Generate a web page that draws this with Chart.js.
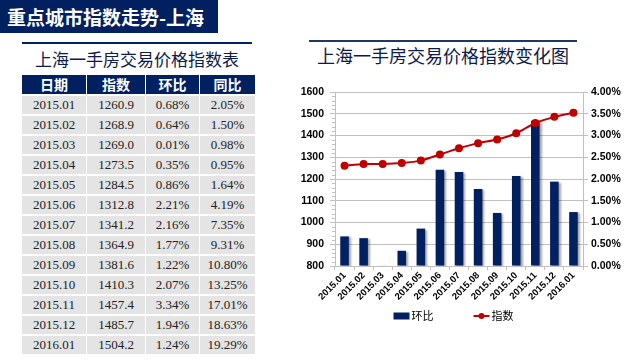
<!DOCTYPE html>
<html>
<head>
<meta charset="utf-8">
<script src="https://cdn.jsdelivr.net/npm/chart.js@4/dist/chart.umd.min.js"></script>
<style>
    body { margin: 0; width: 627px; height: 360px; background: #fff; position: relative; overflow: hidden; font-family: "Noto Sans CJK SC", sans-serif; }
    .top-bar { position: absolute; left: 0; top: 0; width: 218px; height: 33px; background: #002060; color: #fff; font-weight: bold; font-size: 19px; line-height: 33px; padding-left: 7px; box-sizing: border-box; white-space: nowrap; }
    .tbl-title { position: absolute; left: 22px; top: 42px; width: 230px; height: 33px; border-top: 2px solid #002060; box-sizing: border-box; text-align: center; font-size: 17px; line-height: 30px; color: #0d1a4a; }
    table.data-table { position: absolute; left: 22px; top: 75px; border-collapse: collapse; }
    .data-table th { background: #002060; color: #fff; font-weight: bold; font-size: 14px; height: 19px; padding: 0; line-height: 19px; border-right: 1px solid #fff; }
    .data-table td { background: #e4e4e4; height: 18px; padding: 0; font-family: "Liberation Serif", serif; font-size: 13px; color: #222; text-align: center; border: 1px solid #fff; border-left: 0; border-top: 2px solid #fff; line-height: 18px; }
    .chart-title { position: absolute; left: 309px; top: 40px; width: 268px; border-top: 2px solid #1f3864; text-align: center; font-size: 18px; line-height: 26px; color: #0d1a4a; white-space: nowrap; }
    #wrap { position: absolute; left: 280px; top: 70px; width: 347px; height: 270px; }
</style>
</head>
<body>
<div class="top-bar">重点城市指数走势-上海</div>
<div class="tbl-title">上海一手房交易价格指数表</div>
<table class="data-table" id="tbl"></table>
<div class="chart-title">上海一手房交易价格指数变化图</div>
<div id="wrap"><canvas id="real_time_chart" width="347" height="270"></canvas></div>
<script>
// 数据
const dates = ['2015.01', '2015.02', '2015.03', '2015.04', '2015.05', '2015.06', '2015.07',
    '2015.08', '2015.09', '2015.10', '2015.11', '2015.12', '2016.01'];
const indexValues = [1260.9, 1268.9, 1269.0, 1273.5, 1284.5, 1312.8, 1341.2, 1364.9, 1381.6, 1410.3, 1457.4, 1485.7, 1504.2];
const momValues = [0.68, 0.64, 0.01, 0.35, 0.86, 2.21, 2.16, 1.77, 1.22, 2.07, 3.34, 1.94, 1.24];   // 环比 %
const yoyValues = [2.05, 1.50, 0.98, 0.95, 1.64, 4.19, 7.35, 9.31, 10.80, 13.25, 17.01, 18.63, 19.29]; // 同比 %
const headers = ['日期', '指数', '环比', '同比'];
const colWidths = [64, 58, 53, 55];

// Таблица
function buildTable() {
    let html = '<tr>';
    headers.forEach((h, i) => {
        html += `<th style="width:${colWidths[i]}px">${h}</th>`;
    });
    html += '</tr>';
    dates.forEach((d, i) => {
        html += `<tr><td>${d}</td><td>${indexValues[i].toFixed(1)}</td>` +
            `<td>${momValues[i].toFixed(2)}%</td><td>${yoyValues[i].toFixed(2)}%</td></tr>`;
    });
    document.getElementById('tbl').innerHTML = html;
}
buildTable();

const navy = '#002060';
const red = '#c00000';
const gridColor = '#c0c0c0';
const tickFont = { family: '"Liberation Sans", Arial, sans-serif', size: 10.5, weight: 'bold' };

// тень у столбцов, мелкие деления и легенда
const extras = {
    id: 'extras',
    beforeDatasetDraw(chart, args) {
        if (args.index === 0) {
            const c = chart.ctx;
            c.save();
            c.shadowColor = 'rgba(0,0,0,0.35)';
            c.shadowOffsetX = 2;
            c.shadowOffsetY = 1;
            c.shadowBlur = 2;
        }
    },
    afterDatasetDraw(chart, args) {
        if (args.index === 0) chart.ctx.restore();
    },
    afterDraw(chart) {
        const c = chart.ctx;
        const y = chart.scales.y;
        c.save();
        c.strokeStyle = gridColor;
        c.lineWidth = 1;
        for (let v = 800; v <= 1600; v += 20) {
            if (v % 100 === 0) continue;
            const py = Math.round(y.getPixelForValue(v)) + 0.5;
            c.beginPath();
            c.moveTo(y.right - 3, py);
            c.lineTo(y.right, py);
            c.stroke();
        }

        // легенда
        c.font = '11px "Noto Sans CJK SC", sans-serif';
        c.textBaseline = 'middle';
        const ds = chart.data.datasets;
        const widths = ds.map(d => 18 + c.measureText(d.label).width);
        const gap = 40;
        const total = widths.reduce((a, b) => a + b, 0) + gap;
        let x = chart.width / 2 - total / 2;
        const ly = chart.chartArea.bottom + 50;
        ds.forEach((d, i) => {
            if (d.type === 'bar') {
                c.fillStyle = d.backgroundColor;
                c.fillRect(x, ly - 3.5, 16, 7);
            } else {
                c.strokeStyle = d.borderColor;
                c.lineWidth = 2;
                c.beginPath();
                c.moveTo(x, ly);
                c.lineTo(x + 16, ly);
                c.stroke();
                c.fillStyle = d.borderColor;
                c.beginPath();
                c.arc(x + 8, ly, 3, 0, Math.PI * 2);
                c.fill();
            }
            c.fillStyle = '#000';
            c.fillText(d.label, x + 18, ly);
            x += widths[i] + gap;
        });
        c.restore();
    }
};

let chart = null;

function initializeChart() {
    const ctx = document.getElementById('real_time_chart').getContext('2d');
    chart = new Chart(ctx, {
        type: 'bar',
        data: {
            labels: dates,
            datasets: [
                {
                    type: 'bar',
                    label: '环比',
                    data: momValues,
                    yAxisID: 'y1',
                    backgroundColor: navy,
                    categoryPercentage: 1,
                    barPercentage: 0.45,
                    order: 1
                },
                {
                    type: 'line',
                    label: '指数',
                    data: indexValues,
                    yAxisID: 'y',
                    borderColor: red,
                    backgroundColor: red,
                    borderWidth: 2,
                    pointRadius: 3,
                    pointBackgroundColor: red,
                    pointBorderColor: red,
                    tension: 0.2,
                    order: 0
                }
            ]
        },
        options: {
            responsive: false,
            animation: false,
            layout: { padding: { top: 22, bottom: 36, left: 0, right: 0 } },
            plugins: {
                tooltip: { enabled: false },
                legend: { display: false }
            },
            scales: {
                x: {
                    grid: { display: true, drawOnChartArea: false, color: gridColor, tickLength: 4, offset: true },
                    border: { color: gridColor },
                    ticks: {
                        minRotation: 45, maxRotation: 45, autoSkip: false, padding: 0,
                        color: '#000', font: { family: '"Liberation Sans", Arial, sans-serif', size: 9.5, weight: 'bold' }
                    },
                    afterFit(scale) { scale.height = 38; }
                },
                y: {
                    position: 'left',
                    min: 800, max: 1600,
                    ticks: {
                        stepSize: 100, padding: 6,
                        callback: v => String(v),
                        color: '#000', font: tickFont
                    },
                    grid: { color: gridColor, tickLength: 5 },
                    border: { color: gridColor },
                    afterFit(scale) { scale.width = 55; }
                },
                y1: {
                    position: 'right',
                    min: 0, max: 4,
                    ticks: {
                        stepSize: 0.5, padding: 3,
                        callback: v => v.toFixed(2) + '%',
                        color: '#000', font: tickFont
                    },
                    grid: { drawOnChartArea: false, color: gridColor, tickLength: 5 },
                    border: { color: gridColor },
                    afterFit(scale) { scale.width = 44; }
                }
            }
        },
        plugins: [extras]
    });
}

initializeChart();
</script>
</body>
</html>
